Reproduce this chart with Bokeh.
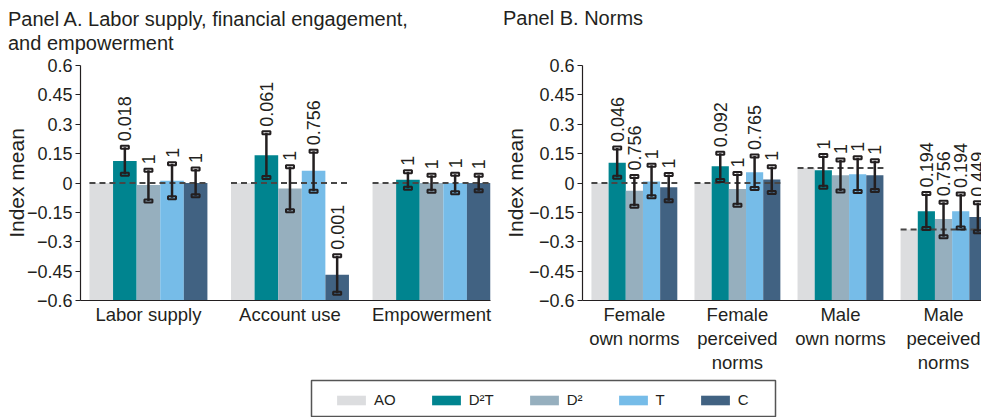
import math
import numpy as np
from bokeh.plotting import figure
from bokeh.models import Range1d, FixedTicker, Legend, LegendItem, Div
from bokeh.layouts import column, row
from bokeh.embed import file_html
from bokeh.resources import INLINE
from bokeh.core.properties import value

FONT = "Liberation Sans"
INK = "#231f20"

# ---------------- data ----------------
series = ["AO", "D²T", "D²", "T", "C"]
colors = ["#dcdddf", "#00848f", "#96afbe", "#76bce8", "#416282"]

y_ticks = [-0.6, -0.45, -0.3, -0.15, 0, 0.15, 0.3, 0.45, 0.6]
y_tick_labels = ["−0.6", "−0.45", "−0.3", "−0.15", "0", "0.15", "0.3", "0.45", "0.6"]

title_a = ["Panel A. Labor supply, financial engagement,", "and empowerment"]
title_b = ["Panel B. Norms"]
y_label = "Index mean"

# Panel A
cats_a = ["Labor supply", "Account use", "Empowerment"]
a_ao = [0.0, 0.0, 0.0]
a_d2t = [0.112, 0.142, 0.017]
a_d2 = [-0.010, -0.028, 0.0]
a_t = [0.012, 0.062, 0.0]
a_c = [0.0, -0.468, 0.0]
a_d2t_lo = [0.045, 0.028, -0.027]
a_d2t_hi = [0.183, 0.257, 0.058]
a_d2_lo = [-0.092, -0.142, -0.042]
a_d2_hi = [0.065, 0.083, 0.040]
a_t_lo = [-0.075, -0.042, -0.050]
a_t_hi = [0.098, 0.162, 0.045]
a_c_lo = [-0.065, -0.563, -0.040]
a_c_hi = [0.072, -0.372, 0.040]
a_d2t_p = ["0.018", "0.061", "1"]
a_d2_p = ["1", "1", "1"]
a_t_p = ["1", "0.756", "1"]
a_c_p = ["1", "0.001", "1"]

# Panel B
cats_b = ["Female\nown norms", "Female\nperceived\nnorms", "Male\nown norms", "Male\npeceived\nnorms"]
b_ao = [0.0, 0.0, 0.076, -0.237]
b_d2t = [0.104, 0.085, 0.065, -0.144]
b_d2 = [-0.040, -0.031, 0.040, -0.184]
b_t = [0.008, 0.055, 0.045, -0.144]
b_c = [-0.022, 0.018, 0.040, -0.174]
b_d2t_lo = [0.030, 0.013, -0.022, -0.232]
b_d2t_hi = [0.179, 0.152, 0.141, -0.053]
b_d2_lo = [-0.119, -0.114, -0.041, -0.275]
b_d2_hi = [0.033, 0.048, 0.118, -0.098]
b_t_lo = [-0.070, -0.028, -0.043, -0.230]
b_t_hi = [0.091, 0.138, 0.129, -0.056]
b_c_lo = [-0.091, -0.048, -0.038, -0.249]
b_c_hi = [0.043, 0.083, 0.113, -0.101]
b_d2t_p = ["0.046", "0.092", "1", "0.194"]
b_d2_p = ["0.756", "1", "1", "0.756"]
b_t_p = ["1", "0.765", "1", "0.194"]
b_c_p = ["1", "1", "1", "0.449"]

GROUP = len(series) + 1  # bar slots per category (5 bars + 1 gap)


def make_panel(cats, means, los, his, pvals, width, border_left, border_right,
               x_start, x_end, ylab_standoff):
    p = figure(width=width, height=319, toolbar_location=None, output_backend="svg",
               x_range=Range1d(x_start, x_end), y_range=Range1d(-0.6, 0.6),
               min_border_left=border_left, min_border_right=border_right,
               min_border_top=9, min_border_bottom=70)
    p.grid.visible = False
    p.outline_line_color = None
    p.background_fill_color = "white"
    p.border_fill_color = None

    n = len(cats)
    # bars
    for j, (vals, col) in enumerate(zip(means, colors)):
        xs = [GROUP * i + j + 0.5 for i in range(n)]
        p.vbar(x=xs, bottom=-0.6, top=vals, width=1.0, fill_color=col, line_color=None)
    # reference (AO) dashed lines
    p.segment(x0=[GROUP * i for i in range(n)], x1=[GROUP * i + len(series) for i in range(n)],
              y0=means[0], y1=means[0], line_color="#474747", line_width=2, line_dash="6 4")
    # error bars + p-values
    for j in range(1, len(series)):
        xs = [GROUP * i + j + 0.5 for i in range(n)]
        lo, hi = los[j - 1], his[j - 1]
        p.segment(x0=xs, x1=xs, y0=lo, y1=hi, line_color=INK, line_width=2.5)
        for yy in (lo, hi):
            p.rect(x=xs, y=yy, width=8, height=3, width_units="screen", height_units="screen",
                   fill_color=None, line_color=INK, line_width=2)
        p.text(x=xs, y=hi, text=pvals[j - 1], angle=math.pi / 2, text_align="left",
               text_baseline="middle", y_offset=-6, text_font=value(FONT),
               text_font_size="18px", text_color=INK)

    # axes
    p.yaxis.ticker = FixedTicker(ticks=y_ticks)
    p.yaxis.major_label_overrides = dict(zip(y_ticks, y_tick_labels))
    p.yaxis.minor_tick_line_color = None
    p.yaxis.major_tick_in = 0
    p.yaxis.major_tick_out = 5
    p.yaxis.major_label_standoff = 3
    p.yaxis.axis_label = y_label
    p.yaxis.axis_label_standoff = ylab_standoff
    p.yaxis.axis_label_text_font = FONT
    p.yaxis.axis_label_text_font_size = "21px"
    p.yaxis.axis_label_text_font_style = "normal"
    p.yaxis.axis_label_text_color = INK
    centers = [GROUP * i + (len(series)) / 2 for i in range(n)]
    p.xaxis.ticker = FixedTicker(ticks=centers)
    p.xaxis.major_label_overrides = dict(zip(centers, cats))
    p.xaxis.minor_tick_line_color = None
    p.xaxis.major_tick_line_color = None
    p.xaxis.major_tick_in = 0
    p.xaxis.major_tick_out = 0
    p.xaxis.major_label_standoff = 3
    p.xaxis.major_label_text_line_height = 1.15
    for ax in (p.xaxis, p.yaxis):
        ax.axis_line_color = INK
        ax.axis_line_width = 1.2
        ax.major_label_text_font = FONT
        ax.major_label_text_color = INK
    p.yaxis.major_tick_line_color = INK
    p.yaxis.major_label_text_font_size = "18px"
    p.xaxis.major_label_text_font_size = "18.5px"
    return p


figA = make_panel(cats_a, [a_ao, a_d2t, a_d2, a_t, a_c],
                  [a_d2t_lo, a_d2_lo, a_t_lo, a_c_lo], [a_d2t_hi, a_d2_hi, a_t_hi, a_c_hi],
                  [a_d2t_p, a_d2_p, a_t_p, a_c_p],
                  width=500, border_left=80, border_right=10, x_start=-0.38, x_end=17.0,
                  ylab_standoff=-4)

figB = make_panel(cats_b, [b_ao, b_d2t, b_d2, b_t, b_c],
                  [b_d2t_lo, b_d2_lo, b_t_lo, b_c_lo], [b_d2t_hi, b_d2_hi, b_t_hi, b_c_hi],
                  [b_d2t_p, b_d2_p, b_t_p, b_c_p],
                  width=481, border_left=77, border_right=0, x_start=-0.52, x_end=22.71,
                  ylab_standoff=-1)

style = ("font-family:'Liberation Sans';font-size:20px;line-height:23.5px;"
         "color:#231f20;white-space:nowrap;")
divA = Div(text=f'<div style="{style}padding:8px 0 0 8px;">' + "<br>".join(title_a) + "</div>",
           width=500, height=56, margin=0)
divB = Div(text=f'<div style="{style}padding:7px 0 0 3px;">' + "<br>".join(title_b) + "</div>",
           width=481, height=56, margin=0)

# legend strip: its frame outline is the legend box
leg = figure(width=981, height=42, toolbar_location=None, output_backend="svg",
             x_range=Range1d(0, 1), y_range=Range1d(0, 1),
             min_border_left=311, min_border_right=206, min_border_top=5, min_border_bottom=0,
             x_axis_type=None, y_axis_type=None)
leg.grid.visible = False
leg.outline_line_color = "#555555"
leg.outline_line_width = 1.5
items = []
for s, c in zip(series, colors):
    r = leg.vbar(x=np.array([np.nan]), top=np.array([np.nan]), width=1, fill_color=c, line_color=None)
    items.append(LegendItem(label=s, renderers=[r]))
legend = Legend(items=items, orientation="horizontal", location=(22, 9),
                glyph_width=36, glyph_height=12, label_standoff=5, spacing=32,
                padding=0, margin=0, label_width=0, label_height=12,
                label_text_font=FONT, label_text_font_size="15px", label_text_color=INK,
                border_line_color=None, background_fill_alpha=0)
leg.add_layout(legend, "center")

layout = column(row(divA, divB), row(figA, figB), leg)
open("out.html", "w").write(file_html(layout, INLINE))
